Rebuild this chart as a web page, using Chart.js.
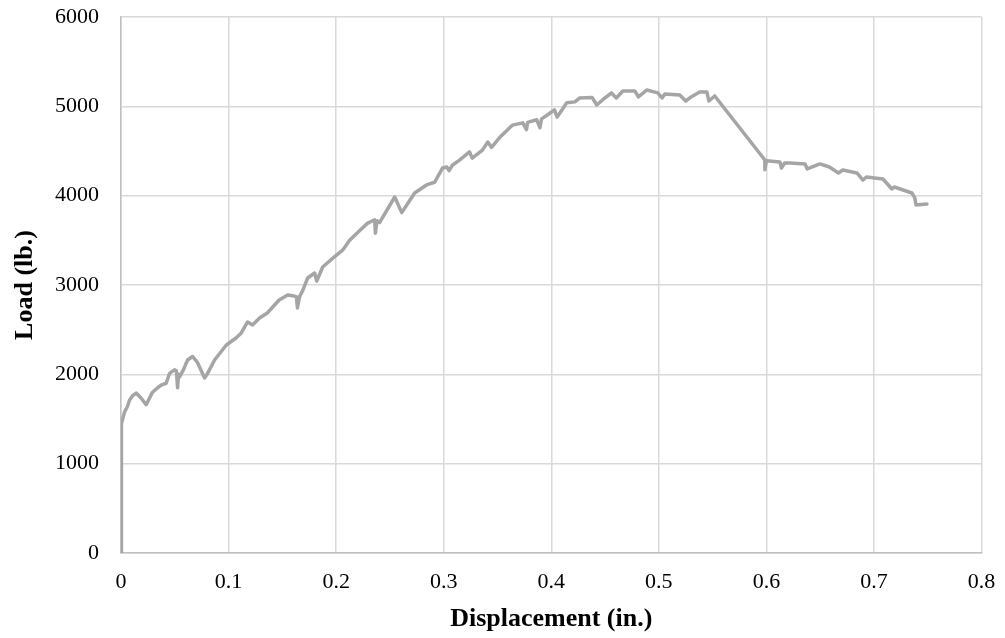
<!DOCTYPE html>
<html>
<head>
<meta charset="utf-8">
<title>Load vs Displacement</title>
<script src="https://cdn.jsdelivr.net/npm/chart.js@4.4.1/dist/chart.umd.min.js"></script>
<style>
    html, body { margin: 0; padding: 0; background: #ffffff; }
    #wrap { width: 1005px; height: 638px; }
</style>
</head>
<body>
<div id="wrap"><canvas id="loadChart" width="1005" height="638"></canvas></div>
<script>
// --- Data ---
const displacement = [
    0, 0.0004, 0.0002, 0.0006, 0.002, 0.0033, 0.006, 0.0079, 0.0107, 0.0141,
    0.019, 0.0234, 0.028, 0.0293, 0.034, 0.0374, 0.042, 0.0451, 0.0498, 0.0515,
    0.0526, 0.0535, 0.0544, 0.058, 0.0619, 0.0665, 0.0712, 0.0777, 0.080, 0.087,
    0.0979, 0.107, 0.1118, 0.1177, 0.1223, 0.1288, 0.136, 0.147, 0.155, 0.1595,
    0.163, 0.164, 0.166, 0.169, 0.1735, 0.180, 0.182, 0.1875, 0.197, 0.206,
    0.2126, 0.222, 0.229, 0.2358, 0.2365, 0.238, 0.2405, 0.2545, 0.261, 0.273,
    0.284, 0.2916, 0.299, 0.303, 0.305, 0.308, 0.315, 0.324, 0.3265, 0.336,
    0.341, 0.3445, 0.352, 0.364, 0.3735, 0.377, 0.378, 0.3865, 0.3895, 0.391,
    0.396, 0.403, 0.4055, 0.4144, 0.422, 0.4265, 0.438, 0.4423, 0.449, 0.456,
    0.4605, 0.4665, 0.4777, 0.481, 0.4888, 0.499, 0.503, 0.5056, 0.5195, 0.525,
    0.530, 0.538, 0.5447, 0.5465, 0.552, 0.5986, 0.5986, 0.600, 0.6126, 0.614,
    0.617, 0.622, 0.636, 0.638, 0.6498, 0.6586, 0.667, 0.671, 0.6842, 0.6898,
    0.693, 0.7084, 0.7167, 0.719, 0.7353, 0.738, 0.7391, 0.7493
];
const load = [
    0, 600, 1000, 1450, 1520, 1580, 1640, 1710, 1760, 1790,
    1730, 1660, 1770, 1800, 1850, 1880, 1900, 2010, 2050, 2040,
    1850, 2000, 1970, 2050, 2160, 2200, 2130, 1959, 2000, 2160,
    2328, 2407, 2463, 2586, 2552, 2630, 2687, 2832, 2888, 2880,
    2870, 2743, 2870, 2940, 3078, 3134, 3045, 3202, 3300, 3390,
    3500, 3610, 3690, 3730, 3580, 3720, 3700, 3985, 3810, 4030,
    4120, 4150, 4310, 4320, 4280, 4340, 4400, 4490, 4420, 4510,
    4600, 4540, 4650, 4790, 4815, 4740, 4820, 4850, 4760, 4860,
    4900, 4960, 4880, 5040, 5050, 5094, 5100, 5015, 5085, 5150,
    5094, 5172, 5172, 5105, 5183, 5150, 5094, 5139, 5127, 5060,
    5105, 5161, 5161, 5060, 5116, 4399, 4290, 4390, 4377, 4310,
    4365, 4366, 4355, 4299, 4355, 4321, 4254, 4287, 4254, 4175,
    4209, 4187, 4075, 4097, 4030, 3974, 3896, 3907
];

// tick positions
const xTickValues = [0, 0.1, 0.2, 0.3, 0.4, 0.5, 0.6, 0.7, 0.8];
const yTickValues = [0, 1000, 2000, 3000, 4000, 5000, 6000];

const xTitle = 'Displacement (in.)';
const yTitle = 'Load (lb.)';

// --- Chart ---
const points = displacement.map(function(d, i) {
    return { x: d, y: load[i] };
});

const serif = "'Liberation Serif', 'Times New Roman', serif";
const gridColor = '#d9d9d9';

const ctx = document.getElementById('loadChart');
new Chart(ctx, {
    type: 'scatter',
    data: {
        datasets: [{
            label: 'Load',
            data: points,
            showLine: true,
            borderColor: '#a5a5a5',
            borderWidth: 3.5,
            borderJoinStyle: 'round',
            borderCapStyle: 'round',
            pointRadius: 0,
            tension: 0,
            fill: false
        }]
    },
    options: {
        responsive: false,
        animation: false,
        devicePixelRatio: 1,
        layout: {
            padding: { top: 17, right: 23.5, bottom: 0, left: 0 }
        },
        plugins: {
            legend: { display: false },
            tooltip: { enabled: false }
        },
        scales: {
            x: {
                type: 'linear',
                min: 0,
                max: 0.8,
                afterBuildTicks: function(axis) {
                    axis.ticks = xTickValues.map(function(v) { return { value: v }; });
                },
                afterFit: function(axis) {
                    // fixed box so the plot area lands where the original one is
                    axis.height = 85;
                    axis.paddingLeft = 0;
                    axis.paddingRight = 0;
                },
                ticks: {
                    color: '#000000',
                    padding: 16,
                    maxRotation: 0,
                    font: { family: serif, size: 22 },
                    callback: function(value) {
                        return String(+value.toFixed(1));
                    }
                },
                grid: {
                    color: gridColor,
                    lineWidth: 1.5,
                    drawTicks: false
                },
                border: { color: '#bfbfbf', width: 1.5 },
                title: {
                    display: true,
                    text: xTitle,
                    color: '#000000',
                    padding: { top: 0, bottom: 3 },
                    font: { family: serif, size: 26, weight: 'bold' }
                }
            },
            y: {
                type: 'linear',
                min: 0,
                max: 6000,
                afterBuildTicks: function(axis) {
                    axis.ticks = yTickValues.map(function(v) { return { value: v }; });
                },
                afterFit: function(axis) {
                    axis.width = 121;
                    axis.paddingTop = 0;
                    axis.paddingBottom = 0;
                },
                ticks: {
                    color: '#000000',
                    padding: 22,
                    font: { family: serif, size: 22 },
                    callback: function(value) {
                        return String(value);
                    }
                },
                grid: {
                    color: gridColor,
                    lineWidth: 1.5,
                    drawTicks: false
                },
                border: { color: '#bfbfbf', width: 1.5 },
                title: {
                    display: true,
                    text: yTitle,
                    color: '#000000',
                    padding: { top: 10, bottom: 0 },
                    font: { family: serif, size: 26, weight: 'bold' }
                }
            }
        }
    }
});
</script>
</body>
</html>
